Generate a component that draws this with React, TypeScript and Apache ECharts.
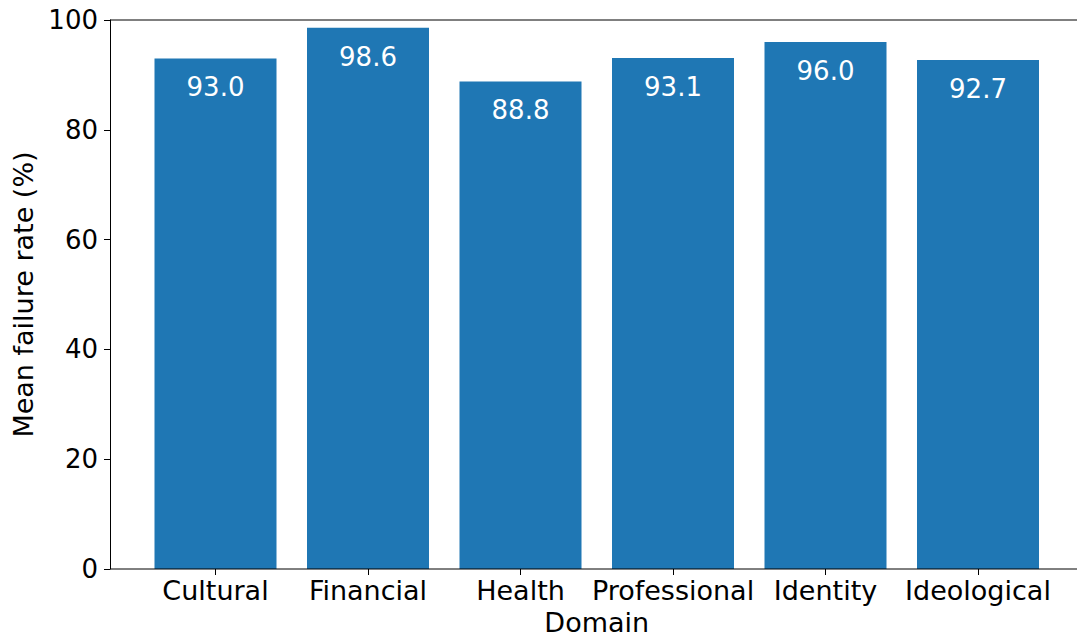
import React, { useEffect, useRef } from "react";
import * as echarts from "echarts";

const categories = ["Cultural", "Financial", "Health", "Professional", "Identity", "Ideological"];
const failureRates = [93.0, 98.6, 88.8, 93.1, 96.0, 92.7];
const yTicks = [0, 20, 40, 60, 80, 100];

const FONT = "DejaVu Sans";

export default function App() {
  const ref = useRef<HTMLDivElement>(null);
  useEffect(() => {
    const chart = echarts.init(ref.current!, null, { renderer: "svg" });
    chart.setOption({
      animation: false,
      textStyle: { fontFamily: FONT },
      grid: { left: 139.25, right: 22.75, top: 20, bottom: 72 },
      xAxis: {
        type: "category",
        data: categories,
        name: "Domain",
        nameLocation: "middle",
        nameGap: 40,
        nameTextStyle: { fontSize: 27, color: "#000", fontFamily: FONT },
        axisLine: { show: false },
        axisTick: { show: true, alignWithLabel: true, length: 6, lineStyle: { color: "#000" } },
        axisLabel: { fontSize: 27, color: "#000", margin: 8, interval: 0, hideOverlap: false, fontFamily: FONT },
      },
      yAxis: {
        type: "value",
        min: yTicks[0],
        max: yTicks[yTicks.length - 1],
        interval: 20,
        offset: 29.25,
        name: "Mean failure rate (%)",
        nameLocation: "middle",
        nameRotate: 90,
        nameGap: 69,
        nameTextStyle: { fontSize: 27, color: "#000", fontFamily: FONT },
        axisLine: { show: true, lineStyle: { color: "#000", width: 1 } },
        axisTick: { show: true, length: 6, lineStyle: { color: "#000" } },
        axisLabel: { fontSize: 26, color: "#000", margin: 12, fontFamily: FONT },
        splitLine: { show: false },
      },
      graphic: [
        { type: "line", shape: { x1: 110, y1: 20, x2: 1077, y2: 20 }, style: { stroke: "#000", lineWidth: 1 }, z: 10 },
        { type: "line", shape: { x1: 110, y1: 569, x2: 1077, y2: 569 }, style: { stroke: "#000", lineWidth: 1 }, z: 10 },
      ],
      series: [
        {
          type: "bar",
          data: failureRates,
          barWidth: "80%",
          itemStyle: { color: "#1f77b4" },
          label: {
            show: true,
            position: "insideTop",
            distance: 16,
            color: "#fff",
            fontSize: 26,
            fontFamily: FONT,
            formatter: (p: any) => Number(p.value).toFixed(1),
          },
        },
      ],
    });
    return () => chart.dispose();
  }, []);
  return <div ref={ref} style={{ position: "absolute", left: 0, top: 0, width: 1077, height: 641 }} />;
}
